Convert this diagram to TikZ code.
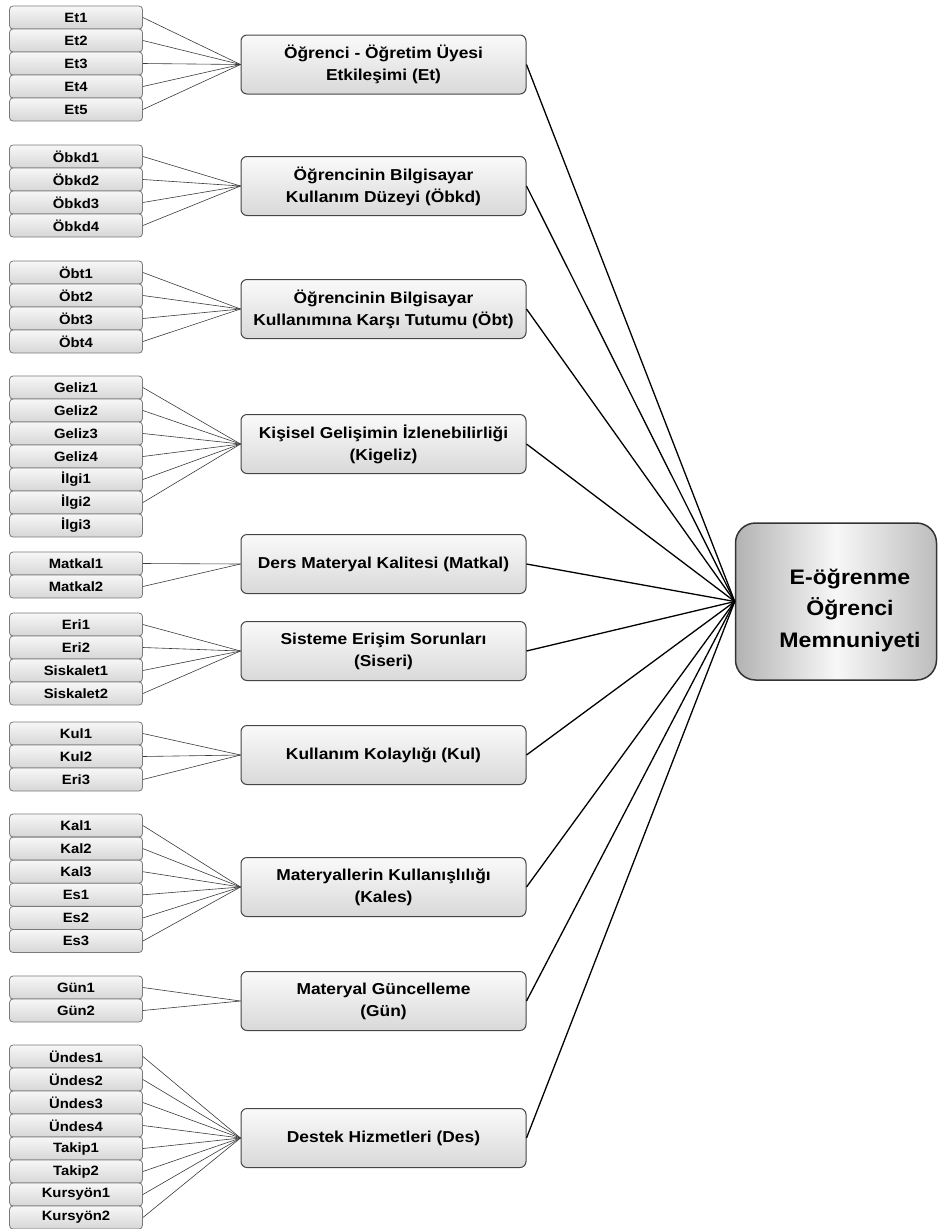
\documentclass[tikz,border=0pt]{standalone}
\usepackage{fontspec}
\setmainfont[FakeStretch=1.1]{Liberation Sans}
\definecolor{leafborder}{HTML}{7A7A7A}
\definecolor{midborder}{HTML}{454545}
\definecolor{bigborder}{HTML}{333333}
\definecolor{leafline}{HTML}{3A3A3A}
\begin{document}
\begin{tikzpicture}[x=1pt,y=-1pt,
  leaf/.style={draw=leafborder, line width=0.8pt, rounded corners=3.5pt,
    top color=white!97!black, bottom color=white!84!black,
    minimum width=133pt, minimum height=23pt, inner sep=0pt,
    font=\fontsize{13.5}{15}\selectfont\bfseries},
  mid/.style={draw=midborder, line width=1pt, rounded corners=6pt,
    top color=white!98!black, bottom color=white!85!black,
    minimum width=285pt, minimum height=59pt, inner sep=0pt, align=center,
    font=\fontsize{15.8}{22}\selectfont\bfseries},
  big/.style={draw=bigborder, line width=1.5pt, rounded corners=20pt,
    left color=white!70!black, right color=white!74!black, middle color=white!97!black,
    minimum width=201pt, minimum height=157pt, inner sep=0pt},
  bigtext/.style={align=center, inner sep=0pt, font=\fontsize{21}{31.5}\selectfont\bfseries},
  thin/.style={draw=leafline, line width=0.6pt},
  thick/.style={draw=black, line width=1.3pt}]
\useasboundingbox (0,0) rectangle (938,1229);

\node[big] (E) at (836,601.5) {};
\node[bigtext] (Etext) at (850,610) {E-öğrenme\\Öğrenci\\Memnuniyeti};

\node[mid] (Et) at (383.5,64.5) {Öğrenci - Öğretim Üyesi\\Etkileşimi (Et)};
\node[mid] (Obkd) at (383.5,186) {Öğrencinin Bilgisayar\\Kullanım Düzeyi (Öbkd)};
\node[mid] (Obt) at (383.5,309) {Öğrencinin Bilgisayar\\Kullanımına Karşı Tutumu (Öbt)};
\node[mid] (Kigeliz) at (383.5,444) {Kişisel Gelişimin İzlenebilirliği\\(Kigeliz)};
\node[mid] (Matkal) at (383.5,564) {Ders Materyal Kalitesi (Matkal)};
\node[mid] (Siseri) at (383.5,651) {Sisteme Erişim Sorunları\\(Siseri)};
\node[mid] (Kul) at (383.5,755) {Kullanım Kolaylığı (Kul)};
\node[mid] (Kales) at (383.5,887) {Materyallerin Kullanışlılığı\\(Kales)};
\node[mid] (Gun) at (383.5,1001) {Materyal Güncelleme\\(Gün)};
\node[mid] (Des) at (383.5,1138) {Destek Hizmetleri (Des)};

\foreach \m in {Et,Obkd,Obt,Kigeliz,Matkal,Siseri,Kul,Kales,Gun,Des}
  \draw[thick] (\m.east) -- (E.west);

\foreach \t [count=\k] in {Et1,Et2,Et3,Et4,Et5}{
  \node[leaf] (a\k) at (76,{17.5+23*(\k-1)}) {\t};
  \draw[thin] (a\k.east) -- (Et.west);}
\foreach \t [count=\k] in {Öbkd1,Öbkd2,Öbkd3,Öbkd4}{
  \node[leaf] (b\k) at (76,{156.5+23*(\k-1)}) {\t};
  \draw[thin] (b\k.east) -- (Obkd.west);}
\foreach \t [count=\k] in {Öbt1,Öbt2,Öbt3,Öbt4}{
  \node[leaf] (c\k) at (76,{272.5+23*(\k-1)}) {\t};
  \draw[thin] (c\k.east) -- (Obt.west);}
\foreach \t [count=\k] in {Geliz1,Geliz2,Geliz3,Geliz4,İlgi1,İlgi2}{
  \node[leaf] (d\k) at (76,{387.5+23*(\k-1)}) {\t};
  \draw[thin] (d\k.east) -- (Kigeliz.west);}
\node[leaf] (d7) at (76,525.5) {İlgi3};
\foreach \t [count=\k] in {Matkal1,Matkal2}{
  \node[leaf] (e\k) at (76,{563.5+23*(\k-1)}) {\t};
  \draw[thin] (e\k.east) -- (Matkal.west);}
\foreach \t [count=\k] in {Eri1,Eri2,Siskalet1,Siskalet2}{
  \node[leaf] (f\k) at (76,{624.5+23*(\k-1)}) {\t};
  \draw[thin] (f\k.east) -- (Siseri.west);}
\foreach \t [count=\k] in {Kul1,Kul2,Eri3}{
  \node[leaf] (g\k) at (76,{733.5+23*(\k-1)}) {\t};
  \draw[thin] (g\k.east) -- (Kul.west);}
\foreach \t [count=\k] in {Kal1,Kal2,Kal3,Es1,Es2,Es3}{
  \node[leaf] (h\k) at (76,{825.5+23.1*(\k-1)}) {\t};
  \draw[thin] (h\k.east) -- (Kales.west);}
\foreach \t [count=\k] in {Gün1,Gün2}{
  \node[leaf] (i\k) at (76,{987.5+23*(\k-1)}) {\t};
  \draw[thin] (i\k.east) -- (Gun.west);}
\foreach \t [count=\k] in {Ündes1,Ündes2,Ündes3,Ündes4,Takip1,Takip2,Kursyön1,Kursyön2}{
  \node[leaf] (j\k) at (76,{1056.5+23*(\k-1)}) {\t};
  \draw[thin] (j\k.east) -- (Des.west);}
\end{tikzpicture}
\end{document}
